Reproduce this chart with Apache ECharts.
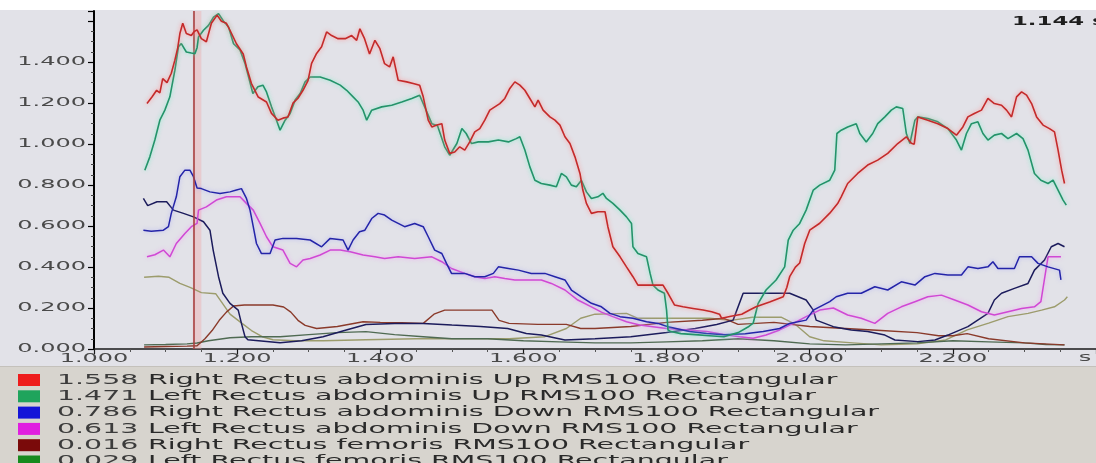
<!DOCTYPE html>
<html>
<head>
<meta charset="utf-8">
<script src="https://cdn.jsdelivr.net/npm/echarts@6/dist/echarts.min.js"></script>
<style>
  html, body { margin: 0; padding: 0; background: #ffffff; }
  #chart { width: 1096px; height: 463px; }
</style>
</head>
<body>
<div id="chart"></div>
<script>
// ---- data: EMG RMS envelopes, [time s, amplitude] ----
const CURSOR_X = 1.144;

const rightRAUp = [[1.074,1.199],[1.081,1.23],[1.0875,1.263],[1.092,1.25],[1.096,1.32],[1.102,1.30],[1.108,1.346],[1.113,1.41],[1.117,1.47],[1.120,1.54],[1.124,1.59],[1.129,1.54],[1.136,1.53],[1.140,1.55],[1.144,1.558],[1.150,1.515],[1.157,1.50],[1.164,1.59],[1.172,1.63],[1.178,1.60],[1.185,1.59],[1.19,1.556],[1.199,1.49],[1.2085,1.44],[1.213,1.377],[1.220,1.296],[1.2295,1.23],[1.241,1.206],[1.248,1.15],[1.257,1.117],[1.264,1.127],[1.271,1.133],[1.278,1.2],[1.285,1.224],[1.292,1.263],[1.299,1.31],[1.304,1.394],[1.311,1.443],[1.318,1.475],[1.325,1.548],[1.332,1.53],[1.341,1.515],[1.351,1.515],[1.36,1.53],[1.367,1.507],[1.3715,1.563],[1.378,1.515],[1.385,1.44],[1.3925,1.507],[1.3995,1.466],[1.406,1.393],[1.413,1.377],[1.418,1.426],[1.425,1.312],[1.437,1.304],[1.446,1.296],[1.455,1.288],[1.46,1.231],[1.467,1.117],[1.472,1.084],[1.479,1.093],[1.486,1.10],[1.49,1.02],[1.497,0.955],[1.504,0.962],[1.511,0.987],[1.518,0.971],[1.525,1.011],[1.532,1.06],[1.539,1.076],[1.546,1.117],[1.553,1.166],[1.56,1.182],[1.567,1.198],[1.574,1.223],[1.581,1.272],[1.588,1.304],[1.595,1.288],[1.602,1.263],[1.609,1.223],[1.616,1.182],[1.6205,1.215],[1.6275,1.166],[1.637,1.133],[1.644,1.117],[1.651,1.093],[1.658,1.036],[1.665,1.003],[1.672,0.938],[1.679,0.857],[1.683,0.776],[1.688,0.711],[1.695,0.662],[1.704,0.67],[1.714,0.67],[1.718,0.597],[1.725,0.499],[1.735,0.45],[1.744,0.401],[1.753,0.353],[1.760,0.312],[1.772,0.312],[1.781,0.312],[1.795,0.312],[1.802,0.272],[1.811,0.215],[1.823,0.206],[1.837,0.198],[1.851,0.19],[1.863,0.182],[1.874,0.17],[1.877,0.15],[1.89,0.16],[1.905,0.17],[1.916,0.19],[1.925,0.206],[1.944,0.23],[1.963,0.255],[1.968,0.30],[1.972,0.353],[1.98,0.40],[1.986,0.42],[1.993,0.515],[2.0,0.58],[2.014,0.614],[2.028,0.663],[2.039,0.71],[2.044,0.743],[2.053,0.808],[2.067,0.857],[2.081,0.898],[2.095,0.922],[2.109,0.955],[2.123,1.003],[2.135,1.036],[2.142,1.004],[2.146,1.00],[2.151,1.133],[2.165,1.117],[2.179,1.10],[2.193,1.076],[2.205,1.044],[2.214,1.084],[2.221,1.133],[2.23,1.15],[2.24,1.166],[2.249,1.223],[2.258,1.198],[2.268,1.19],[2.275,1.166],[2.282,1.133],[2.289,1.231],[2.296,1.255],[2.303,1.239],[2.31,1.198],[2.317,1.133],[2.326,1.093],[2.335,1.076],[2.342,1.06],[2.347,0.971],[2.352,0.873],[2.356,0.808]];

const leftRAUp = [[1.071,0.873],[1.078,0.938],[1.085,1.02],[1.092,1.117],[1.099,1.166],[1.106,1.231],[1.113,1.361],[1.118,1.475],[1.122,1.491],[1.129,1.45],[1.136,1.445],[1.141,1.442],[1.144,1.471],[1.146,1.523],[1.153,1.556],[1.16,1.58],[1.167,1.62],[1.174,1.637],[1.181,1.60],[1.188,1.572],[1.195,1.49],[1.204,1.46],[1.211,1.394],[1.216,1.328],[1.222,1.247],[1.229,1.28],[1.236,1.288],[1.241,1.255],[1.248,1.182],[1.255,1.117],[1.26,1.068],[1.267,1.117],[1.274,1.15],[1.281,1.215],[1.288,1.247],[1.295,1.304],[1.302,1.328],[1.316,1.328],[1.33,1.312],[1.344,1.288],[1.353,1.263],[1.362,1.231],[1.369,1.206],[1.376,1.166],[1.381,1.117],[1.388,1.166],[1.402,1.182],[1.416,1.19],[1.43,1.206],[1.444,1.223],[1.455,1.239],[1.462,1.182],[1.472,1.10],[1.48,1.09],[1.49,0.987],[1.497,0.946],[1.507,1.003],[1.514,1.076],[1.52,1.052],[1.5275,1.003],[1.537,1.011],[1.551,1.011],[1.565,1.02],[1.579,1.011],[1.59,1.027],[1.595,1.036],[1.602,0.971],[1.609,0.889],[1.616,0.824],[1.625,0.808],[1.637,0.80],[1.646,0.792],[1.653,0.857],[1.66,0.84],[1.667,0.80],[1.674,0.792],[1.681,0.824],[1.688,0.767],[1.695,0.735],[1.704,0.743],[1.711,0.76],[1.716,0.735],[1.725,0.711],[1.735,0.678],[1.744,0.645],[1.751,0.613],[1.753,0.499],[1.76,0.466],[1.772,0.45],[1.777,0.369],[1.781,0.312],[1.788,0.288],[1.797,0.272],[1.80,0.19],[1.802,0.093],[1.806,0.085],[1.82,0.075],[1.84,0.07],[1.86,0.065],[1.88,0.06],[1.90,0.08],[1.915,0.11],[1.921,0.126],[1.928,0.223],[1.939,0.288],[1.953,0.337],[1.965,0.401],[1.97,0.532],[1.977,0.58],[1.986,0.613],[1.995,0.678],[2.005,0.776],[2.014,0.80],[2.028,0.824],[2.035,0.873],[2.038,1.052],[2.044,1.068],[2.053,1.084],[2.065,1.10],[2.07,1.052],[2.079,1.011],[2.088,1.052],[2.095,1.10],[2.105,1.133],[2.114,1.166],[2.121,1.182],[2.13,1.174],[2.135,1.052],[2.14,1.003],[2.147,1.117],[2.151,1.133],[2.165,1.125],[2.179,1.109],[2.193,1.076],[2.205,1.02],[2.212,0.971],[2.219,1.052],[2.226,1.10],[2.235,1.109],[2.242,1.052],[2.249,1.02],[2.258,1.044],[2.268,1.052],[2.277,1.027],[2.289,1.052],[2.298,1.027],[2.305,0.971],[2.314,0.857],[2.323,0.824],[2.333,0.808],[2.34,0.824],[2.347,0.776],[2.354,0.727],[2.3585,0.702]];

const rightRADown = [[1.069,0.58],[1.08,0.575],[1.097,0.58],[1.104,0.597],[1.108,0.662],[1.115,0.743],[1.12,0.841],[1.127,0.873],[1.134,0.873],[1.139,0.841],[1.144,0.786],[1.15,0.783],[1.162,0.767],[1.176,0.759],[1.19,0.767],[1.199,0.776],[1.206,0.783],[1.213,0.735],[1.218,0.678],[1.2225,0.597],[1.227,0.515],[1.234,0.466],[1.246,0.466],[1.253,0.532],[1.264,0.54],[1.283,0.54],[1.302,0.532],[1.318,0.499],[1.33,0.54],[1.348,0.532],[1.355,0.483],[1.362,0.532],[1.371,0.572],[1.3785,0.58],[1.388,0.637],[1.397,0.662],[1.406,0.654],[1.416,0.629],[1.425,0.613],[1.434,0.597],[1.448,0.613],[1.46,0.597],[1.467,0.548],[1.476,0.483],[1.486,0.466],[1.4925,0.418],[1.4995,0.369],[1.518,0.369],[1.532,0.353],[1.546,0.353],[1.558,0.369],[1.565,0.401],[1.579,0.393],[1.593,0.385],[1.611,0.369],[1.63,0.369],[1.644,0.353],[1.658,0.337],[1.667,0.288],[1.681,0.255],[1.695,0.223],[1.709,0.206],[1.721,0.174],[1.735,0.158],[1.753,0.15],[1.772,0.133],[1.788,0.125],[1.802,0.109],[1.832,0.085],[1.856,0.076],[1.88,0.07],[1.91,0.075],[1.935,0.085],[1.958,0.10],[1.972,0.125],[1.995,0.141],[2.005,0.19],[2.028,0.231],[2.037,0.255],[2.053,0.272],[2.072,0.272],[2.091,0.304],[2.109,0.288],[2.128,0.328],[2.147,0.312],[2.161,0.353],[2.175,0.369],[2.193,0.361],[2.212,0.361],[2.221,0.401],[2.235,0.393],[2.249,0.401],[2.256,0.426],[2.263,0.393],[2.286,0.393],[2.293,0.45],[2.31,0.45],[2.319,0.418],[2.333,0.401],[2.349,0.385],[2.351,0.337]];

const leftRADown = [[1.074,0.45],[1.085,0.46],[1.097,0.483],[1.106,0.45],[1.115,0.515],[1.127,0.564],[1.136,0.597],[1.144,0.613],[1.146,0.678],[1.157,0.694],[1.171,0.727],[1.185,0.743],[1.204,0.743],[1.213,0.711],[1.2225,0.678],[1.232,0.613],[1.241,0.548],[1.25,0.499],[1.264,0.483],[1.274,0.418],[1.283,0.401],[1.292,0.434],[1.302,0.442],[1.316,0.459],[1.33,0.483],[1.344,0.483],[1.358,0.475],[1.376,0.459],[1.3925,0.45],[1.406,0.442],[1.425,0.45],[1.448,0.442],[1.472,0.45],[1.486,0.426],[1.4995,0.393],[1.518,0.369],[1.532,0.353],[1.546,0.344],[1.56,0.353],[1.574,0.344],[1.588,0.337],[1.607,0.337],[1.625,0.337],[1.639,0.32],[1.658,0.288],[1.676,0.239],[1.695,0.206],[1.709,0.18],[1.725,0.158],[1.744,0.133],[1.7625,0.117],[1.781,0.109],[1.80,0.10],[1.828,0.093],[1.856,0.085],[1.884,0.068],[1.902,0.06],[1.921,0.052],[1.939,0.068],[1.958,0.093],[1.977,0.125],[1.995,0.158],[2.014,0.19],[2.033,0.2],[2.053,0.166],[2.072,0.15],[2.091,0.125],[2.109,0.174],[2.128,0.206],[2.147,0.231],[2.165,0.255],[2.184,0.263],[2.2025,0.239],[2.221,0.215],[2.24,0.182],[2.258,0.166],[2.277,0.182],[2.296,0.198],[2.314,0.206],[2.323,0.231],[2.33,0.385],[2.333,0.45],[2.342,0.45],[2.351,0.45]];

const rightRF = [[1.07,0.01],[1.10,0.012],[1.13,0.014],[1.144,0.016],[1.155,0.05],[1.165,0.09],[1.175,0.14],[1.185,0.18],[1.195,0.21],[1.21,0.215],[1.25,0.215],[1.265,0.205],[1.275,0.18],[1.285,0.14],[1.295,0.115],[1.311,0.10],[1.34,0.11],[1.376,0.133],[1.40,0.13],[1.43,0.128],[1.46,0.125],[1.475,0.17],[1.49,0.19],[1.52,0.19],[1.556,0.19],[1.566,0.14],[1.58,0.125],[1.62,0.12],[1.66,0.12],[1.68,0.10],[1.70,0.10],[1.75,0.11],[1.80,0.13],[1.85,0.14],[1.88,0.15],[1.90,0.12],[1.95,0.13],[2.0,0.11],[2.05,0.10],[2.1,0.09],[2.15,0.08],[2.18,0.065],[2.2,0.065],[2.22,0.075],[2.25,0.05],[2.3,0.03],[2.356,0.02]];

const leftRF = [[1.07,0.02],[1.10,0.022],[1.13,0.025],[1.144,0.029],[1.16,0.04],[1.19,0.055],[1.22,0.06],[1.26,0.06],[1.30,0.07],[1.34,0.08],[1.38,0.085],[1.42,0.07],[1.46,0.06],[1.50,0.05],[1.55,0.05],[1.60,0.04],[1.65,0.035],[1.70,0.03],[1.75,0.03],[1.80,0.035],[1.85,0.04],[1.90,0.05],[1.95,0.04],[2.0,0.025],[2.05,0.02],[2.1,0.025],[2.15,0.03],[2.2,0.04],[2.25,0.035],[2.3,0.03],[2.33,0.022],[2.356,0.02]];

const navyTrace = [[1.069,0.735],[1.075,0.70],[1.088,0.719],[1.1015,0.719],[1.111,0.678],[1.125,0.662],[1.139,0.645],[1.153,0.621],[1.162,0.58],[1.1665,0.483],[1.174,0.353],[1.18,0.272],[1.19,0.223],[1.2015,0.19],[1.206,0.125],[1.211,0.06],[1.215,0.045],[1.23,0.04],[1.26,0.03],[1.29,0.04],[1.32,0.06],[1.35,0.09],[1.38,0.12],[1.42,0.125],[1.46,0.125],[1.50,0.117],[1.54,0.11],[1.578,0.10],[1.604,0.076],[1.625,0.068],[1.658,0.044],[1.70,0.05],[1.75,0.06],[1.80,0.08],[1.84,0.10],[1.87,0.12],[1.893,0.141],[1.907,0.272],[1.972,0.272],[1.995,0.239],[2.005,0.19],[2.009,0.141],[2.033,0.109],[2.058,0.093],[2.081,0.085],[2.105,0.068],[2.119,0.044],[2.151,0.036],[2.175,0.044],[2.193,0.068],[2.221,0.109],[2.249,0.174],[2.258,0.239],[2.268,0.272],[2.286,0.296],[2.305,0.32],[2.314,0.385],[2.328,0.434],[2.3375,0.499],[2.347,0.515],[2.356,0.499]];

const oliveTrace = [[1.07,0.35],[1.09,0.355],[1.105,0.35],[1.12,0.32],[1.135,0.30],[1.15,0.275],[1.17,0.27],[1.18,0.22],[1.19,0.17],[1.205,0.13],[1.22,0.09],[1.235,0.06],[1.25,0.045],[1.28,0.04],[1.32,0.04],[1.38,0.045],[1.45,0.05],[1.52,0.05],[1.58,0.05],[1.63,0.06],[1.66,0.10],[1.68,0.15],[1.70,0.17],[1.744,0.174],[1.76,0.15],[1.80,0.15],[1.86,0.15],[1.89,0.14],[1.92,0.155],[1.96,0.155],[1.98,0.12],[2.0,0.06],[2.02,0.04],[2.06,0.03],[2.1,0.02],[2.15,0.025],[2.19,0.044],[2.22,0.093],[2.25,0.126],[2.277,0.158],[2.305,0.174],[2.324,0.19],[2.342,0.206],[2.356,0.239],[2.36,0.255]];

// axis tick labels
const xTickValues = [1.0, 1.2, 1.4, 1.6, 1.8, 2.0, 2.2];
const xTickLabels = ['1.000', '1.200', '1.400', '1.600', '1.800', '2.000', '2.200'];
const yTickValues = [0, 0.2, 0.4, 0.6, 0.8, 1.0, 1.2, 1.4];
const yTickLabels = ['0.000', '0.200', '0.400', '0.600', '0.800', '1.000', '1.200', '1.400'];
const xUnit = 's';

// legend rows: value at cursor + channel name
const legendValues = ['1.558', '1.471', '0.786', '0.613', '0.016', '0.029'];
const legendNames = [
  'Right Rectus abdominis Up RMS100 Rectangular',
  'Left Rectus abdominis Up RMS100 Rectangular',
  'Right Rectus abdominis Down RMS100 Rectangular',
  'Left Rectus abdominis Down RMS100 Rectangular',
  'Right Rectus femoris RMS100 Rectangular',
  'Left Rectus femoris RMS100 Rectangular'
];
const legendColors = ['#ee1c1c', '#1fa45c', '#1414d8', '#e01ee0', '#7a0a0a', '#178a1e'];

// ---- chart ----
const chart = echarts.init(document.getElementById('chart'), null, { renderer: 'canvas' });

const FONT = '"DejaVu Sans", Verdana, sans-serif';
const PLOT_BG = '#e2e2e8';
const LEGEND_BG = '#d7d4ce';

function trace(name, data, color, width, glow, z) {
  return {
    name: name,
    type: 'line',
    data: data,
    showSymbol: false,
    symbol: 'none',
    smooth: false,
    z: z,
    lineStyle: {
      color: color,
      width: width,
      shadowColor: glow || 'transparent',
      shadowBlur: glow ? 4 : 0
    },
    emphasis: { disabled: true }
  };
}

const series = [
  trace('olive', oliveTrace, '#9c9c6c', 1.4, null, 2),
  trace(legendNames[5], leftRF, '#4f6a52', 1.4, null, 2),
  trace(legendNames[4], rightRF, '#8a3a2a', 1.4, null, 3),
  trace('navy', navyTrace, '#1c1c5c', 1.5, null, 3),
  trace(legendNames[3], leftRADown, '#d048d4', 1.5, 'rgba(245,150,245,0.8)', 4),
  trace(legendNames[2], rightRADown, '#2424a8', 1.5, 'rgba(160,160,250,0.7)', 4),
  trace(legendNames[1], leftRAUp, '#24936a', 1.6, 'rgba(120,240,200,0.9)', 5),
  trace(legendNames[0], rightRAUp, '#c42a2a', 1.6, 'rgba(255,140,140,0.9)', 6)
];

// measurement cursor with its soft band
series[series.length - 1].markArea = {
  silent: true,
  itemStyle: { color: 'rgba(240,165,165,0.38)' },
  data: [[{ xAxis: CURSOR_X - 0.006 }, { xAxis: CURSOR_X + 0.006 }]]
};
series[series.length - 1].markLine = {
  silent: true,
  symbol: 'none',
  label: { show: false },
  lineStyle: { color: '#a84040', width: 1.6, type: 'solid' },
  data: [{ xAxis: CURSOR_X }]
};

chart.setOption({
  animation: false,
  backgroundColor: PLOT_BG,
  grid: { left: 94, right: 0, top: 11, bottom: 114, containLabel: false },
  xAxis: {
    type: 'value',
    min: 1.0,
    max: 2.4,
    interval: 0.2,
    axisLine: { show: true, onZero: false, lineStyle: { color: '#1a1a1a', width: 1.5 } },
    axisTick: { show: true, length: 5, lineStyle: { color: '#1a1a1a', width: 1.2 } },
    minorTick: { show: true, splitNumber: 4, length: 3, lineStyle: { color: '#555', width: 1 } },
    axisLabel: { show: false },
    splitLine: { show: false }
  },
  yAxis: {
    type: 'value',
    min: 0,
    max: 1.65,
    interval: 0.2,
    axisLine: { show: true, lineStyle: { color: '#000', width: 2 } },
    axisTick: { show: true, length: 6, lineStyle: { color: '#000', width: 1.2 } },
    minorTick: { show: true, splitNumber: 4, length: 3, lineStyle: { color: '#444', width: 1 } },
    axisLabel: { show: false },
    splitLine: { show: false }
  },
  series: series
});

// stretched text helper (the whole display uses wide lettering)
function stretchedText(text, x, y, size, sx, align, color, weight) {
  return {
    type: 'text',
    x: x,
    y: y,
    scaleX: sx,
    silent: true,
    z: 10,
    style: {
      text: text,
      x: 0,
      y: 0,
      fill: color,
      fontSize: size,
      fontFamily: FONT,
      fontWeight: weight || 'normal',
      align: align,
      verticalAlign: 'middle',
      textAlign: align,
      textVerticalAlign: 'middle'
    }
  };
}

const graphics = [];

// white strip above the plot
graphics.push({ type: 'rect', silent: true, z: 0, shape: { x: 0, y: 0, width: 1096, height: 10 }, style: { fill: '#ffffff' } });
// legend panel
graphics.push({ type: 'rect', silent: true, z: 0, shape: { x: 0, y: 367, width: 1096, height: 96 }, style: { fill: LEGEND_BG } });
graphics.push({ type: 'rect', silent: true, z: 0, shape: { x: 0, y: 366, width: 1096, height: 1 }, style: { fill: '#c4c1bb' } });

// x tick labels
xTickValues.forEach(function (v, i) {
  const px = chart.convertToPixel({ xAxisIndex: 0 }, v);
  graphics.push(stretchedText(xTickLabels[i], px, 359, 12, 2.0, 'center', '#4a4a4a'));
});
const unitPx = chart.convertToPixel({ xAxisIndex: 0 }, 2.4) - 11;
graphics.push(stretchedText(xUnit, unitPx, 358, 12, 2.0, 'center', '#4a4a4a'));

// y tick labels
yTickValues.forEach(function (v, i) {
  const py = chart.convertToPixel({ yAxisIndex: 0 }, v);
  graphics.push(stretchedText(yTickLabels[i], 86, py, 12, 2.0, 'right', '#4a4a4a'));
});

// cursor readout
graphics.push(stretchedText(CURSOR_X.toFixed(3) + ' ' + xUnit, 1012, 22, 12, 1.9, 'left', '#1e1e1e', 'bold'));

// legend rows
legendNames.forEach(function (name, i) {
  const cy = 380 + i * 16.3;
  graphics.push({ type: 'rect', silent: true, z: 10, shape: { x: 18, y: cy - 6, width: 22, height: 12 }, style: { fill: legendColors[i] } });
  graphics.push(stretchedText(legendValues[i], 57, cy, 14, 2.03, 'left', '#3c3c3c'));
  graphics.push(stretchedText(name, 148, cy, 14, 2.03, 'left', '#2a2a2a'));
});

chart.setOption({ graphic: { elements: graphics } });
</script>
</body>
</html>
